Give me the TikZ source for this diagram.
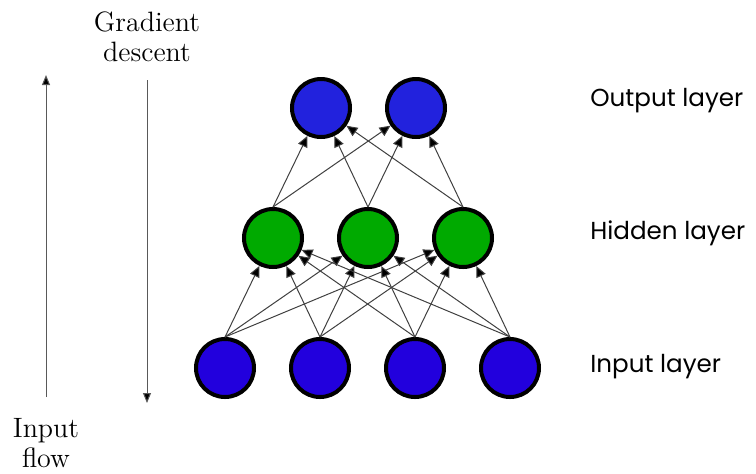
\documentclass[tikz,border=0pt]{standalone}
\usepackage{fontspec}
\usepackage{tikz}
\usetikzlibrary{arrows.meta,positioning}
\newfontfamily\layerfont{Poppins}
\definecolor{outblue}{RGB}{34,34,221}
\definecolor{inblue}{RGB}{34,0,221}
\definecolor{hidgreen}{RGB}{0,170,0}

\begin{document}
\begin{tikzpicture}[
    x=0.5pt, y=-0.5pt,
    node distance=65pt and 47.5pt, on grid,
    neuron/.style={circle, draw=black, line width=2pt, minimum size=29pt, inner sep=0pt},
    inp/.style={neuron, fill=inblue},
    hid/.style={neuron, fill=hidgreen},
    outp/.style={neuron, fill=outblue},
    conn/.style={draw=black!75, line width=0.5pt, -{Triangle[length=5.5pt,width=5pt,fill=black]}},
    flow/.style={draw=black!65, line width=0.5pt, -{Triangle[length=5pt,width=4pt,fill=black]}},
    lbl/.style={font=\layerfont\fontsize{12.3}{14}\selectfont, anchor=base west, inner sep=0pt},
    side/.style={font=\fontsize{14}{15}\selectfont, align=center}
]
\useasboundingbox (0,0) rectangle (756,473);

% input layer
\node[inp] (in1) at (225,368) {};
\node[inp, right=of in1] (in2) {};
\node[inp, right=of in2] (in3) {};
\node[inp, right=of in3] (in4) {};

% hidden layer
\node[hid, above right=65pt and 24pt of in1] (hid1) {};
\node[hid, right=of hid1] (hid2) {};
\node[hid, right=of hid2] (hid3) {};

% output layer
\node[outp, above right=65pt and 24pt of hid1] (out1) {};
\node[outp, right=of out1] (out2) {};

% input -> hidden
\draw[conn] (in1.north) -- (hid1);
\draw[conn] (in1.north) -- (hid2);
\draw[conn] (in1.north) -- (hid3);
\draw[conn] (in2.north) -- (hid1);
\draw[conn] (in2.north) -- (hid2);
\draw[conn] (in2.north) -- (hid3);
\draw[conn] (in3.north) -- (hid1);
\draw[conn] (in3.north) -- (hid2);
\draw[conn] (in3.north) -- (hid3);
\draw[conn] (in4.north) -- (hid1);
\draw[conn] (in4.north) -- (hid2);
\draw[conn] (in4.north) -- (hid3);

% hidden -> output
\draw[conn] (hid1.north) -- (out1);
\draw[conn] (hid1.north) -- (out2);
\draw[conn] (hid2.north) -- (out1);
\draw[conn] (hid2.north) -- (out2);
\draw[conn] (hid3.north) -- (out1);
\draw[conn] (hid3.north) -- (out2);

% layer names
\node[lbl] (outname) at (590,106) {Output layer};
\node[lbl] (hidname) at (590,239) {Hidden layer};
\node[lbl] (inname) at (590,372) {Input layer};

% side arrows
\node[side] (grad) at (147,37) {Gradient\\descent};
\node[side] (inflow) at (46,443) {Input\\flow};
\coordinate (flowbot) at (46,397);
\coordinate (flowtop) at (46,75);
\coordinate (gradtop) at (147,80);
\coordinate (gradbot) at (147,403);
\draw[flow] (flowbot) -- (flowtop);
\draw[flow] (gradtop) -- (gradbot);

\end{tikzpicture}
\end{document}
